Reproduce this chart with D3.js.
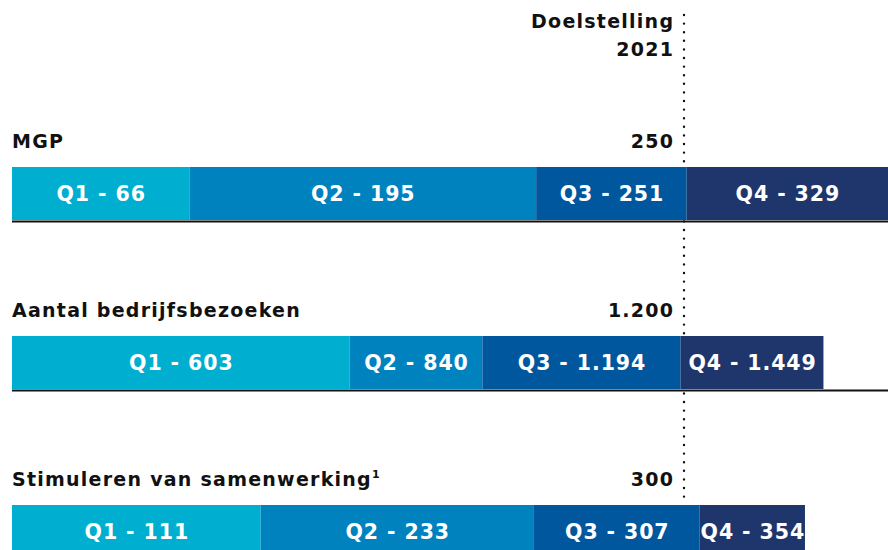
<!DOCTYPE html>
<html><head><meta charset="utf-8">
<script src="https://cdn.jsdelivr.net/npm/d3@7"></script>
<style>body{margin:0;background:#fff}svg{display:block}text{font-family:"DejaVu Sans",Verdana,sans-serif;font-weight:bold}</style>
</head><body><svg id="c" width="888" height="550"></svg>
<script>
const categories = ["MGP", "Aantal bedrijfsbezoeken", "Stimuleren van samenwerking"];
const footnotes = ["", "", "1"];
const targets = [250, 1200, 300];
const targetLabels = ["250", "1.200", "300"];
const quarters = ["Q1", "Q2", "Q3", "Q4"];
const cumulative = [[66, 195, 251, 329], [603, 840, 1194, 1449], [111, 233, 307, 354]];
const valueLabels = [["66", "195", "251", "329"], ["603", "840", "1.194", "1.449"], ["111", "233", "307", "354"]];
const colors = ["#00AED0", "#0082BF", "#00579D", "#1F366D"];

const svg = d3.select("#c");
const W = 888, H = 550;
const x0 = 12, xT = 684;
const rowY = d3.scaleBand().domain(categories).range([167, 167 + 169 * 3]).paddingInner(0).paddingOuter(0);
const barH = 53;
const LS = 1.25;

// target dotted line
svg.append("line").attr("x1", xT).attr("x2", xT).attr("y1", 15).attr("y2", 500)
  .attr("stroke", "#111").attr("stroke-width", 2.4).attr("stroke-linecap", "round")
  .attr("stroke-dasharray", "0 8.6");

svg.append("text").attr("x", 673 + LS).attr("y", 28).attr("text-anchor", "end").attr("font-size", 19).attr("letter-spacing", LS).attr("fill", "#111").text("Doelstelling");
svg.append("text").attr("x", 673 + LS).attr("y", 56).attr("text-anchor", "end").attr("font-size", 19).attr("letter-spacing", LS).attr("fill", "#111").text("2021");

categories.forEach((cat, i) => {
  const y = rowY(cat);
  const x = d3.scaleLinear().domain([0, targets[i]]).range([x0, xT]);
  const g = svg.append("g");
  // baseline
  g.append("line").attr("x1", x0).attr("x2", W).attr("y1", y + barH + 1.5).attr("y2", y + barH + 1.5)
    .attr("stroke", "#111").attr("stroke-width", 2.2);
  const segs = cumulative[i].map((v, j) => ({ q: quarters[j], start: j ? cumulative[i][j - 1] : 0, end: v, label: valueLabels[i][j], c: colors[j] }));
  g.selectAll("rect").data(segs).join("rect")
    .attr("x", d => x(d.start)).attr("width", d => x(d.end) - x(d.start))
    .attr("y", y).attr("height", barH).attr("fill", d => d.c);
  g.selectAll("text.seg").data(segs).join("text").attr("class", "seg")
    .attr("x", d => Math.min((x(d.start) + Math.min(x(d.end), W)) / 2, W) + 0.5)
    .attr("y", y + barH / 2 + 7.5).attr("text-anchor", "middle").attr("font-size", 20.5).attr("letter-spacing", 0.9).attr("fill", "#fff")
    .text(d => `${d.q} - ${d.label}`);
  const t = svg.append("text").attr("x", 12).attr("y", y - 19).attr("font-size", 19).attr("letter-spacing", LS).attr("fill", "#111").text(cat);
  if (footnotes[i]) t.append("tspan").attr("font-size", 11).attr("dy", -8).attr("dx", 0).text(footnotes[i]);
  svg.append("text").attr("x", 673 + LS).attr("y", y - 19).attr("text-anchor", "end").attr("font-size", 19).attr("letter-spacing", LS).attr("fill", "#111").text(targetLabels[i]);
});
</script></body></html>
